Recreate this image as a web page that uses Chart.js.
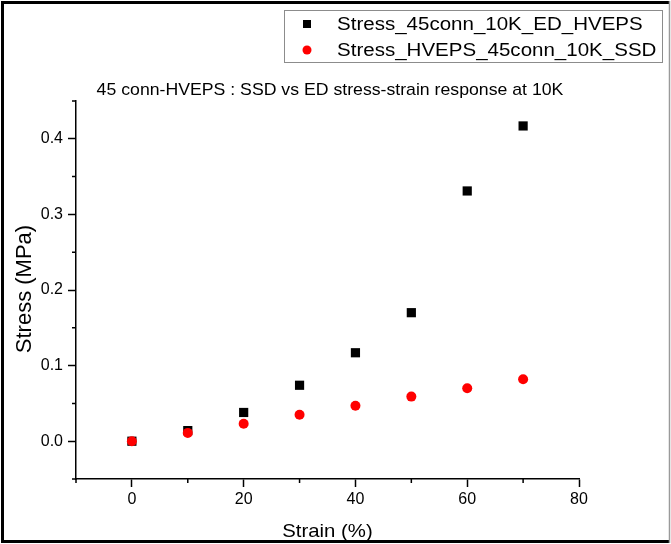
<!DOCTYPE html>
<html>
<head>
<meta charset="utf-8">
<script src="https://cdn.jsdelivr.net/npm/chart.js@4"></script>
<style>
  html, body { margin: 0; padding: 0; background: #fff; }
  #chart { display: block; }
</style>
</head>
<body>
<canvas id="chart" width="671" height="544"></canvas>
<script>
const strain = [0, 10, 20, 30, 40, 50, 60, 70]
const stressED = [0, 0.014, 0.038, 0.074, 0.117, 0.170, 0.331, 0.417]
const stressSSD = [0, 0.011, 0.023, 0.035, 0.047, 0.059, 0.070, 0.082]
const seriesLabels = ["Stress_45conn_10K_ED_HVEPS", "Stress_HVEPS_45conn_10K_SSD"]
const chartTitle = "45 conn-HVEPS : SSD vs ED stress-strain response at 10K"
const xTitle = "Strain (%)"
const yTitle = "Stress (MPa)"

const FONT = "Arial, 'Liberation Sans', sans-serif"
const MAJOR = 8, MINOR = 4

const isMajorX = v => v >= 0 && v % 20 === 0
const isMajorY = v => Math.abs(v * 10 - Math.round(v * 10)) < 1e-6

// text drawn a bit wider than the font, like the reference picture
const drawText = (ctx, text, x, y, size, sx, align, baseline, rot) => {
    ctx.save()
    ctx.translate(x, y)
    if (rot) ctx.rotate(rot)
    ctx.scale(sx, 1)
    ctx.font = size + "px " + FONT
    ctx.textAlign = align
    ctx.textBaseline = baseline
    ctx.fillStyle = "#000"
    ctx.fillText(text, 0, 0)
    ctx.restore()
}

/**
 * Background, outer frame, titles, boxed legend and short minor ticks
 */
const decor = {
    id: "decor",
    beforeDraw: chart => {
        const ctx = chart.ctx
        ctx.save()
        ctx.fillStyle = "#fff"
        ctx.fillRect(0, 0, chart.width, chart.height)
        ctx.restore()
    },
    afterDraw: chart => {
        const ctx = chart.ctx
        const {x, y} = chart.scales
        ctx.save()

        // minor ticks
        ctx.strokeStyle = "#000"
        ctx.lineWidth = 1.5
        ctx.beginPath()
        x.ticks.forEach(t => {
            if (isMajorX(t.value)) return
            const px = x.getPixelForValue(t.value)
            ctx.moveTo(px, x.top); ctx.lineTo(px, x.top + MINOR)
        })
        y.ticks.forEach(t => {
            if (isMajorY(t.value)) return
            const py = y.getPixelForValue(t.value)
            ctx.moveTo(y.right, py); ctx.lineTo(y.right - MINOR, py)
        })
        ctx.stroke()

        // titles
        drawText(ctx, chartTitle, 330, 95, 17, 1.04, "center", "alphabetic")
        drawText(ctx, xTitle, (x.left + x.right) / 2, 537, 18.5, 1.1, "center", "alphabetic")
        drawText(ctx, yTitle, 25, 289, 22, 1, "center", "middle", -Math.PI / 2)

        // legend
        ctx.strokeStyle = "#8c8c8c"
        ctx.lineWidth = 1
        ctx.strokeRect(284.5, 10.5, 378, 52)
        chart.data.datasets.forEach((ds, i) => {
            const cy = 24 + i * 26
            ctx.fillStyle = ds.backgroundColor
            if (ds.pointStyle === "rect") {
                ctx.fillRect(303, cy - 4, 8, 8)
            } else {
                ctx.beginPath()
                ctx.arc(307, cy, 4.5, 0, Math.PI * 2)
                ctx.fill()
            }
            drawText(ctx, ds.label, 337, cy + 5.5, 18, 1.14, "left", "alphabetic")
        })

        // outer frame
        ctx.strokeStyle = "#000"
        ctx.lineWidth = 3
        ctx.beginPath()
        ctx.moveTo(669, 2.5); ctx.lineTo(2.5, 2.5); ctx.lineTo(2.5, 541.5); ctx.lineTo(669, 541.5)
        ctx.stroke()
        ctx.strokeStyle = "#9a9a9a"
        ctx.lineWidth = 1.5
        ctx.beginPath()
        ctx.moveTo(669.5, 1); ctx.lineTo(669.5, 543)
        ctx.stroke()
        ctx.restore()
    }
}

new Chart(document.getElementById("chart"), {
    type: "scatter",
    data: {
        datasets: [{
            label: seriesLabels[0],
            data: strain.map((s, i) => ({x: s, y: stressED[i]})),
            pointStyle: "rect",
            pointRadius: 6.5,
            backgroundColor: "#000",
            borderColor: "#000",
            borderWidth: 0,
            order: 1
        }, {
            label: seriesLabels[1],
            data: strain.map((s, i) => ({x: s, y: stressSSD[i]})),
            pointStyle: "circle",
            pointRadius: 5,
            backgroundColor: "#ff0000",
            borderColor: "#ff0000",
            borderWidth: 0,
            order: 0
        }]
    },
    options: {
        responsive: false,
        animation: false,
        devicePixelRatio: 1,
        layout: {padding: {top: 101, right: 92, left: 0, bottom: 0}},
        plugins: {
            legend: {display: false},
            title: {display: false},
            tooltip: {enabled: false}
        },
        scales: {
            x: {
                type: "linear",
                min: -10,
                max: 80,
                afterFit: s => { s.height = 65 },
                border: {display: true, color: "#000", width: 1.5},
                grid: {
                    drawOnChartArea: false,
                    tickLength: MAJOR,
                    tickWidth: 1.5,
                    tickColor: c => isMajorX(c.tick.value) ? "#000" : "rgba(0,0,0,0)"
                },
                ticks: {
                    stepSize: 10,
                    padding: 3,
                    color: "#000",
                    font: {family: FONT, size: 16},
                    maxRotation: 0,
                    autoSkip: false,
                    callback: v => isMajorX(v) ? String(v) : ""
                }
            },
            y: {
                type: "linear",
                min: -0.05,
                max: 0.45,
                afterFit: s => { s.width = 76 },
                border: {display: true, color: "#000", width: 1.5},
                grid: {
                    drawOnChartArea: false,
                    tickLength: MAJOR,
                    tickWidth: 1.5,
                    tickColor: c => isMajorY(c.tick.value) ? "#000" : "rgba(0,0,0,0)"
                },
                ticks: {
                    stepSize: 0.05,
                    padding: 5,
                    color: "#000",
                    font: {family: FONT, size: 16},
                    autoSkip: false,
                    callback: v => isMajorY(v) ? v.toFixed(1) : ""
                }
            }
        }
    },
    plugins: [decor]
})
</script>
</body>
</html>
